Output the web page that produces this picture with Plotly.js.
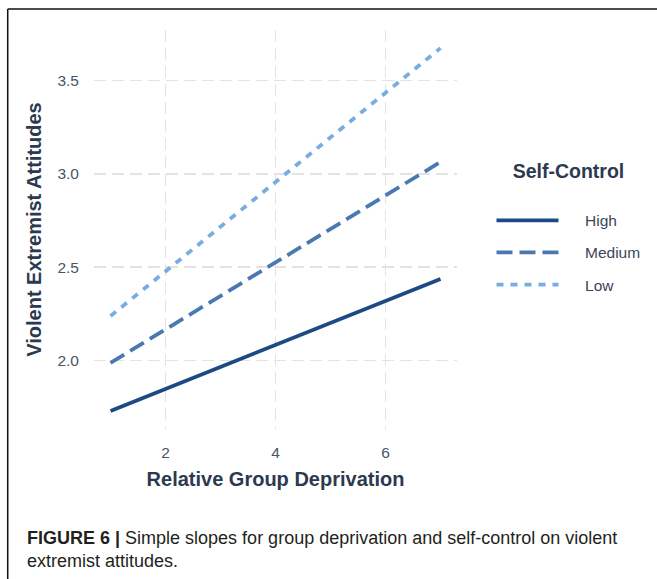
<!DOCTYPE html>
<html>
<head>
<meta charset="utf-8">
<script src="https://cdn.plot.ly/plotly-3.0.1.min.js"></script>
<style>
  html, body { margin: 0; padding: 0; background: #fff; }
  #chart { width: 657px; height: 579px; }
</style>
</head>
<body>
<div id="chart"></div>
<script>
// Data
const deprivation = [1, 7];
const highSC   = [1.730, 2.436];
const mediumSC = [1.987, 3.063];
const lowSC    = [2.238, 3.673];
const seriesNames = ["High", "Medium", "Low"];
const xTicks = [2, 4, 6];
const yTicks = [2.0, 2.5, 3.0, 3.5];
const yTickText = ["2.0", "2.5", "3.0", "3.5"];

const colors = ["#1d4a86", "#4a79b2", "#78ade2"];
const dashes = ["solid", "16px,7px", "7px,7px"];
const seriesVals = [highSC, mediumSC, lowSC];
const pad = "\u00a0\u00a0\u00a0\u00a0\u00a0";

const traces = seriesVals.map((vals, i) => ({
  x: deprivation,
  y: vals,
  type: "scatter",
  mode: "lines",
  name: pad + seriesNames[i],
  legendgroup: "g" + i,
  line: { color: colors[i], width: 3.8, dash: dashes[i] },
  hoverinfo: "skip"
}));

const titleColor = "#2c3a4f";
const tickColor = "#4a5566";

const layout = {
  width: 657,
  height: 579,
  margin: { l: 94, r: 197, t: 30, b: 150 },
  paper_bgcolor: "#ffffff",
  plot_bgcolor: "#ffffff",
  font: { family: "Liberation Sans, Arial, sans-serif", color: tickColor },
  showlegend: true,
  xaxis: {
    range: [0.7, 7.3],
    tickvals: xTicks,
    ticktext: xTicks.map(String),
    showgrid: true,
    gridcolor: "#e3e3e3",
    gridwidth: 1.6,
    griddash: "12px,6px",
    zeroline: false,
    showline: false,
    ticks: "",
    ticklabelstandoff: 12,
    tickfont: { size: 15.5, color: tickColor },
    title: {
      text: "<b>Relative Group Deprivation</b>",
      font: { size: 20, color: titleColor },
      standoff: 12
    }
  },
  yaxis: {
    range: [1.633, 3.770],
    tickvals: yTicks,
    ticktext: yTickText,
    showgrid: true,
    gridcolor: "#e3e3e3",
    gridwidth: 1.6,
    griddash: "12px,6px",
    zeroline: false,
    showline: false,
    ticks: "",
    ticklabelstandoff: 14,
    tickfont: { size: 15.5, color: tickColor },
    title: {
      text: "<b>Violent Extremist Attitudes</b>",
      font: { size: 20, color: titleColor },
      standoff: 10
    }
  },
  legend: {
    x: 1.095,
    xanchor: "left",
    y: 0.505,
    yanchor: "middle",
    itemwidth: 62,
    tracegroupgap: 9,
    bgcolor: "rgba(0,0,0,0)",
    font: { size: 15.5, color: "#3a4658" },
    title: { text: "<b>Self-Control</b><br> ", font: { size: 19.5, color: titleColor }, side: "top center" }
  },
  shapes: [
    { type: "line", xref: "paper", yref: "paper", x0: -0.2377, x1: 1.7, y0: 1.0526, y1: 1.0526, line: { color: "#111", width: 1.5 } },
    { type: "line", xref: "paper", yref: "paper", x0: -0.2377, x1: -0.2377, y0: 1.0526, y1: -0.5, line: { color: "#111", width: 1.5 } }
  ],
  annotations: [
    {
      xref: "paper", yref: "paper",
      x: -0.1913, y: -0.243,
      xanchor: "left", yanchor: "top",
      align: "left",
      showarrow: false,
      text: "<b>FIGURE 6 |</b> Simple slopes for group deprivation and self-control on violent<br>extremist attitudes.",
      font: { family: "Liberation Sans, Arial, sans-serif", size: 18, color: "#231f20" }
    }
  ]
};

Plotly.newPlot("chart", traces, layout, { displayModeBar: false, staticPlot: true });
</script>
</body>
</html>
